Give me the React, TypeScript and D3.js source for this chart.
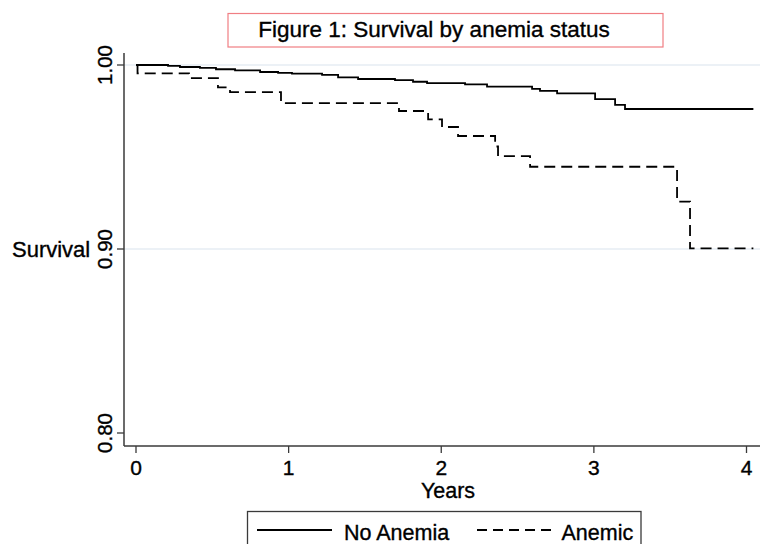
import React from "react";
import * as d3 from "d3";

const yearTicks = [0, 1, 2, 3, 4];
const survivalTicks = [0.8, 0.9, 1.0];
const gridTicks = [0.9, 1.0];

const noAnemiaTime = [0, 0.21, 0.288, 0.419, 0.524, 0.649, 0.813, 0.931, 1.022, 1.219, 1.324, 1.455, 1.697, 1.815, 1.907, 2.156, 2.3, 2.595, 2.647, 2.759, 3.008, 3.139, 3.204, 4.045];
const noAnemiaSurv = [1, 0.9995, 0.9989, 0.9984, 0.9977, 0.9971, 0.9962, 0.9957, 0.9953, 0.9946, 0.9933, 0.9924, 0.9918, 0.9909, 0.9901, 0.9895, 0.9882, 0.987, 0.9859, 0.9846, 0.9815, 0.9783, 0.9761, 0.9761];

const anemicTime = [0, 0.01, 0.347, 0.537, 0.616, 0.95, 1.723, 1.914, 2.005, 2.11, 2.353, 2.372, 2.582, 3.545, 3.63, 4.045];
const anemicSurv = [1, 0.9955, 0.9929, 0.9878, 0.9853, 0.9793, 0.975, 0.9705, 0.9663, 0.9614, 0.9557, 0.9505, 0.9447, 0.9257, 0.9003, 0.9003];

const seriesNames = ["No Anemia", "Anemic"];
const titleText = "Figure 1: Survival by anemia status";

const W = 761;
const H = 544;
const FONT = "'Liberation Sans', Arial, Helvetica, sans-serif";

export default function App() {
  const x = d3.scaleLinear().domain([0, 4]).range([136, 746.5]);
  const y = d3.scaleLinear().domain([0.8, 1.0]).range([433, 65]);

  const axisLeft = 124;
  const axisBottom = 446;
  const axisTop = 53;
  const axisRight = 760;

  const line = d3
    .line<[number, number]>()
    .x((d) => x(d[0]))
    .y((d) => y(d[1]))
    .curve(d3.curveStepAfter);

  const noAnemiaPts: [number, number][] = noAnemiaTime.map((t, i) => [t, noAnemiaSurv[i]]);
  const anemicPts: [number, number][] = anemicTime.map((t, i) => [t, anemicSurv[i]]);

  const axisColor = "#3a3a3a";
  const textProps = { fill: "#000", stroke: "#000", strokeWidth: 0.35 };

  return (
    <svg
      width={W}
      height={H}
      style={{ position: "fixed", left: 0, top: 0, background: "#fff" }}
      fontFamily={FONT}
    >
      <rect x={0} y={0} width={W} height={H} fill="#fff" />
      {/* title box */}
      <rect x={228} y={13.5} width={435} height={33.5} fill="none" stroke="#f07e83" strokeWidth={1.2} />
      <text x={434} y={37} textAnchor="middle" fontSize={22.5} {...textProps}>
        {titleText}
      </text>

      {/* gridlines */}
      {gridTicks.map((t) => (
        <line key={t} x1={axisLeft} x2={axisRight} y1={y(t)} y2={y(t)} stroke="#e6edf3" strokeWidth={1.6} />
      ))}

      {/* curves */}
      <path d={line(noAnemiaPts) || ""} fill="none" stroke="#000" strokeWidth={1.8} />
      <path d={line(anemicPts) || ""} fill="none" stroke="#000" strokeWidth={1.8} strokeDasharray="11,6" />

      {/* axes */}
      <line x1={axisLeft} x2={axisLeft} y1={axisTop} y2={axisBottom} stroke={axisColor} strokeWidth={1.5} />
      <line x1={axisLeft} x2={axisRight} y1={axisBottom} y2={axisBottom} stroke={axisColor} strokeWidth={1.5} />

      {survivalTicks.map((t) => (
        <g key={t}>
          <line x1={axisLeft - 7} x2={axisLeft} y1={y(t)} y2={y(t)} stroke={axisColor} strokeWidth={1.3} />
          <text
            transform={`translate(111.5,${y(t)}) rotate(-90)`}
            textAnchor="middle"
            fontSize={20.5}
            {...textProps}
          >
            {t.toFixed(2)}
          </text>
        </g>
      ))}

      {yearTicks.map((t) => (
        <g key={t}>
          <line x1={x(t)} x2={x(t)} y1={axisBottom} y2={axisBottom + 7} stroke={axisColor} strokeWidth={1.3} />
          <text x={x(t)} y={475} textAnchor="middle" fontSize={21} {...textProps}>
            {t}
          </text>
        </g>
      ))}

      <text x={448} y={498} textAnchor="middle" fontSize={21.5} {...textProps}>
        Years
      </text>
      <text x={12} y={256.5} fontSize={22} {...textProps}>
        Survival
      </text>

      {/* legend */}
      <rect x={247.5} y={511.5} width={393.5} height={45} fill="#fff" stroke={axisColor} strokeWidth={1.3} />
      <line x1={257} x2={332} y1={530} y2={530} stroke="#000" strokeWidth={1.8} />
      <text x={344} y={539.5} fontSize={21.5} {...textProps}>
        {seriesNames[0]}
      </text>
      <line x1={477} x2={551} y1={530} y2={530} stroke="#000" strokeWidth={1.8} strokeDasharray="10,6" />
      <text x={561.5} y={539.5} fontSize={21.5} {...textProps}>
        {seriesNames[1]}
      </text>
    </svg>
  );
}
